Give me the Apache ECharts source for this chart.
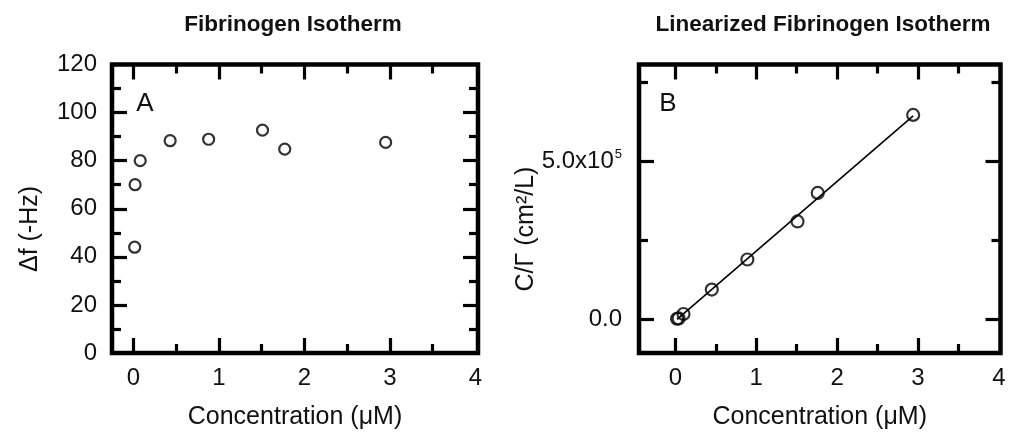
<!DOCTYPE html>
<html>
<head>
<meta charset="utf-8">
<script src="https://cdn.jsdelivr.net/npm/echarts@6/dist/echarts.min.js"></script>
<style>
html,body{margin:0;padding:0;background:#fff;}
#chart{width:1009px;height:435px;}
</style>
</head>
<body>
<div id="chart"></div>
<script>
// ---- data ----
const titleA = 'Fibrinogen Isotherm';
const titleB = 'Linearized Fibrinogen Isotherm';
const xNameA = 'Concentration (\u03bcM)';
const xNameB = 'Concentration (\u03bcM)';
const yNameA = '\u0394f (-Hz)';
const yNameB = 'C/\u0393 (cm\u00b2/L)';

const concA = [0.015, 0.02, 0.08, 0.43, 0.88, 1.51, 1.77, 2.95];
const dfA   = [44, 70, 80, 88.3, 88.9, 92.7, 84.8, 87.6];

const concB = [0.02, 0.04, 0.10, 0.45, 0.89, 1.51, 1.76, 2.94];
const cgB   = [3000, 4000, 18000, 95000, 190000, 310000, 400000, 646000];

const fitX = [0.02, 2.94];
const fitY = [1000, 643000];

const xMajorTicks = [0, 1, 2, 3];
const xMinorTicks = [0.5, 1.5, 2.5, 3.5];
const xTickLabels = [0, 1, 2, 3, 4];
const yMajorTicksA = [20, 40, 60, 80, 100];
const yMinorTicksA = [10, 30, 50, 70, 90, 110];
const yTickLabelsA = [0, 20, 40, 60, 80, 100, 120];
const yMajorTicksB = [0, 500000];
const yMinorTicksB = [250000, 750000];
const yTickLabelsB = [0, 500000];

// ---- layout / style ----
const FONT = '"Liberation Sans", Arial, sans-serif';
const TXT = '#111';

function axisSet(kind, grid, min, max, majors, minors, labels, formatter, margin) {
  const posA = kind === 'x' ? 'bottom' : 'left';
  const posB = kind === 'x' ? 'top' : 'right';
  const base = {
    type: 'value', gridIndex: grid, min: min, max: max,
    axisLine: { show: false, onZero: false }, splitLine: { show: false }
  };
  const tick = (vals, len) => ({ show: true, inside: true, length: len,
    customValues: vals, lineStyle: { color: '#000', width: 3.2 } });
  const noLabel = { show: false };
  const lab = {
    show: true, customValues: labels, margin: margin,
    fontSize: 24, fontFamily: FONT, color: TXT,
    formatter: formatter,
    rich: {
      n: { fontSize: 24, fontFamily: FONT, color: TXT },
      s: { fontSize: 13, fontFamily: FONT, color: TXT, verticalAlign: 'top', padding: [0, 0, 14, 1] }
    }
  };
  return [
    Object.assign({}, base, { position: posA, axisTick: tick(majors, 15), axisLabel: lab }),
    Object.assign({}, base, { position: posA, axisTick: tick(minors, 9), axisLabel: noLabel }),
    Object.assign({}, base, { position: posB, axisTick: tick(majors, 15), axisLabel: noLabel }),
    Object.assign({}, base, { position: posB, axisTick: tick(minors, 9), axisLabel: noLabel })
  ];
}

const fmtB = function (v) {
  if (v === 0) return '{n|0.0}';
  return '{n|5.0x10}{s|5}';
};

const xAxes = [].concat(
  axisSet('x', 0, -0.25, 4.03, xMajorTicks, xMinorTicks, xTickLabels, null, 13),
  axisSet('x', 1, -0.45, 4.02, xMajorTicks, xMinorTicks, xTickLabels, null, 13)
);
xAxes[0].name = xNameA;
xAxes[4].name = xNameB;
[0, 4].forEach(i => {
  xAxes[i].nameLocation = 'middle';
  xAxes[i].nameGap = 52;
  xAxes[i].nameTextStyle = { fontSize: 25, fontFamily: FONT, color: TXT };
});

const yAxes = [].concat(
  axisSet('y', 0, 0, 120, yMajorTicksA, yMinorTicksA, yTickLabelsA, null, 15),
  axisSet('y', 1, -105000, 805000, yMajorTicksB, yMinorTicksB, yTickLabelsB, fmtB, 17)
);

const chart = echarts.init(document.getElementById('chart'), null, { renderer: 'canvas' });
chart.setOption({
  animation: false,
  backgroundColor: '#fff',
  title: [
    { text: titleA, left: 288, top: 8, textAlign: 'center',
      textStyle: { fontSize: 22.5, fontWeight: 'bold', fontFamily: FONT, color: TXT } },
    { text: titleB, left: 818, top: 8, textAlign: 'center',
      textStyle: { fontSize: 22.5, fontWeight: 'bold', fontFamily: FONT, color: TXT } }
  ],
  grid: [
    { left: 112, top: 64.5, width: 366, height: 293, show: true, borderWidth: 4.5, borderColor: '#000', backgroundColor: 'transparent' },
    { left: 639, top: 64.5, width: 361.5, height: 293, show: true, borderWidth: 4.5, borderColor: '#000', backgroundColor: 'transparent' }
  ],
  xAxis: xAxes,
  yAxis: yAxes,
  graphic: [
    { type: 'text', x: 30, y: 229, rotation: Math.PI / 2,
      style: { text: yNameA, fontSize: 25, fontFamily: FONT, fill: TXT, align: 'center', verticalAlign: 'middle' } },
    { type: 'text', x: 526, y: 229, rotation: Math.PI / 2,
      style: { text: yNameB, fontSize: 25, fontFamily: FONT, fill: TXT, align: 'center', verticalAlign: 'middle' } },
    { type: 'text', x: 145, y: 104,
      style: { text: 'A', fontSize: 26, fontFamily: FONT, fill: TXT, align: 'center', verticalAlign: 'middle' } },
    { type: 'text', x: 668, y: 104,
      style: { text: 'B', fontSize: 26, fontFamily: FONT, fill: TXT, align: 'center', verticalAlign: 'middle' } }
  ],
  series: [
    { type: 'scatter', xAxisIndex: 0, yAxisIndex: 0,
      data: concA.map((x, i) => [x, dfA[i]]),
      symbol: 'circle', symbolSize: 11,
      itemStyle: { color: '#fff', borderColor: '#000', borderWidth: 2.2 } },
    { type: 'line', xAxisIndex: 4, yAxisIndex: 4,
      data: fitX.map((x, i) => [x, fitY[i]]),
      symbol: 'none', lineStyle: { color: '#000', width: 1.6 }, z: 2 },
    { type: 'scatter', xAxisIndex: 4, yAxisIndex: 4,
      data: concB.map((x, i) => [x, cgB[i]]),
      symbol: 'circle', symbolSize: 12,
      itemStyle: { color: 'rgba(255,255,255,0)', borderColor: '#000', borderWidth: 2.2 }, z: 3 }
  ]
});
</script>
</body>
</html>
